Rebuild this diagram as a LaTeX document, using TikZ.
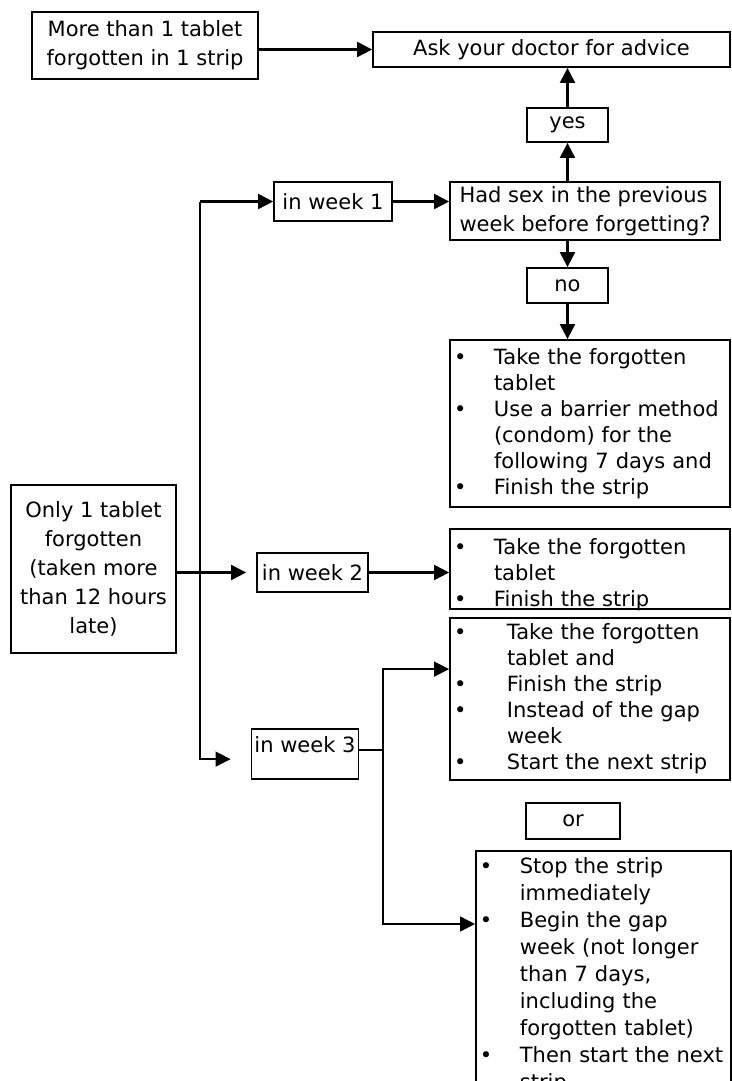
\documentclass[tikz,border=0pt]{standalone}
\usepackage{fontspec}
\setmainfont{DejaVu Sans}
\usepackage{tikz}
\usetikzlibrary{arrows.meta}

\newcommand{\bul}[1][40pt]{\makebox[#1][l]{\textbullet}}
\newcommand{\ind}[1][40pt]{\hspace*{#1}}

\tikzset{
    box/.style={draw, line width=1.8pt, inner sep=3pt, align=center, font=\fontsize{21}{29}\selectfont},
    listbox/.style={draw, line width=1.8pt, inner xsep=4pt, inner ysep=3pt, align=left, text width=272pt, font=\fontsize{21}{26}\selectfont},
    arr/.style={line width=2.2pt, -{Triangle[length=15pt, width=15pt]}},
    thin/.style={line width=1.5pt},
}

\begin{document}
\begin{tikzpicture}[x=1pt, y=-1pt]

    \useasboundingbox (0,0) rectangle (731,1081);

    % top row
    \node[box, minimum width=226pt, minimum height=67pt] (more) at (145,45.5) {More than 1 tablet\\forgotten in 1 strip};
    \node[box, minimum width=357pt, minimum height=35pt] (ask) at (551.5,49.5) {Ask your doctor for advice};
    \node[box, minimum width=81pt, minimum height=34pt] (yes) at (567.5,125) {yes};

    % week 1
    \node[box, minimum width=118pt, minimum height=39pt] (week1) at (333,201.5) {in week 1};
    \node[box, align=left, minimum width=270pt, minimum height=58pt] (had) at (585,211) {Had sex in the previous\\week before forgetting?};
    \node[box, minimum width=81pt, minimum height=35pt] (no) at (567.5,285.5) {no};
    \node[listbox, minimum height=167pt] (nosex) at (590,423.5) {\bul Take the forgotten\\ \ind tablet\\ \bul Use a barrier method\\ \ind (condom) for the\\ \ind following 7 days and\\ \bul Finish the strip};

    % week 2
    \node[box, minimum width=165pt, minimum height=168pt] (only) at (93.5,569) {Only 1 tablet\\forgotten\\(taken more\\than 12 hours\\late)};
    \node[box, minimum width=111pt, minimum height=39pt] (week2) at (312.5,572.5) {in week 2};
    \node[listbox, minimum height=78pt, text height=22pt, text depth=52pt] (late2) at (590,569) {\bul Take the forgotten\\ \ind tablet\\ \bul Finish the strip};

    % week 3
    \node[box, minimum width=106pt, text height=20pt, text depth=24pt] (week3) at (305,754) {in week 3};
    \node[listbox, minimum height=162pt] (keep3) at (590,699) {\bul[46pt] Take the forgotten\\ \ind[46pt] tablet and\\ \bul[46pt] Finish the strip\\ \bul[46pt] Instead of the gap\\ \ind[46pt] week\\ \bul[46pt] Start the next strip};
    \node[box, minimum width=94pt, minimum height=36pt] (orbox) at (573,821) {or};
    \node[listbox, anchor=north west, text width=247pt, inner ysep=7pt, font=\fontsize{21}{27}\selectfont] (stop3) at (475,850) {\bul Stop the strip\\ \ind immediately\\ \bul Begin the gap\\ \ind week (not longer\\ \ind than 7 days,\\ \ind including the\\ \ind forgotten tablet)\\ \bul Then start the next\\ \ind strip};

    \coordinate (trunk) at (200,202);
    \coordinate (fork) at (383,750);

    % connectors
    \draw[arr] (more.east |- ask.west) -- (ask.west);
    \draw[arr] (yes.north) -- (ask.south -| yes.north);
    \draw[arr] (had.north -| yes.south) -- (yes.south);
    \draw[arr] (week1.east) -- (week1.east -| had.west);
    \draw[arr] (had.south -| no.north) -- (no.north);
    \draw[arr] (no.south) -- (no.south |- nosex.north);

    \draw[arr] (week1.west -| trunk) -- (week1.west);
    \draw[arr, thin, shorten >=20pt] (week1.west -| trunk) |- ([yshift=-31pt]week3.north west);

    \draw[arr, shorten >=10pt] (only.east |- week2.west) -- (week2.west);
    \draw[arr] (week2.east) -- (week2.east -| late2.west);

    \draw[thin] (fork -| week3.east) -- (fork);
    \draw[arr, thin] (fork) |- ([yshift=-52pt]keep3.north west);
    \draw[arr, thin] (fork) |- ([yshift=-74pt]stop3.north west);

\end{tikzpicture}
\end{document}
